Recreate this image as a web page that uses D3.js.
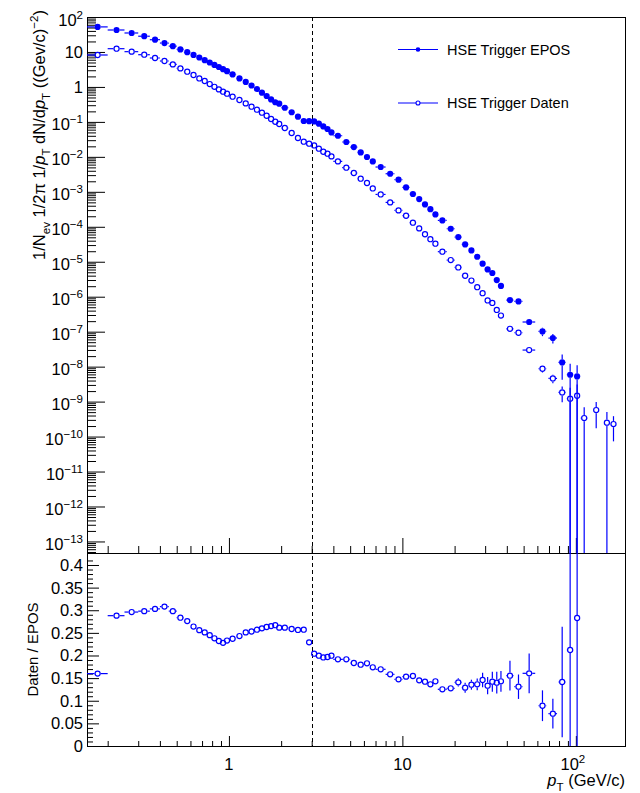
<!DOCTYPE html>
<html>
<head>
<meta charset="utf-8">
<script src="https://cdn.jsdelivr.net/npm/d3@7"></script>
<style>
  body { margin: 0; background: #fff; }
  text { font-family: "Liberation Sans", Arial, sans-serif; fill: #000; }
</style>
</head>
<body>
<div id="chart"></div>
<script>
// ---- data ----
// bin centres (GeV/c) and half widths
const pt = [0.175, 0.225, 0.275, 0.325, 0.375, 0.425, 0.475, 0.525, 0.575, 0.625, 0.675, 0.725, 0.775, 0.825, 0.875, 0.925, 0.975,
  1.05, 1.15, 1.25, 1.35, 1.45, 1.55, 1.65, 1.75, 1.85, 1.95,
  2.1, 2.3, 2.5, 2.7, 2.9, 3.1, 3.3, 3.5, 3.7, 3.9,
  4.25, 4.75, 5.25, 5.75, 6.25, 6.75,
  7.5, 8.5, 9.5, 10.5, 11.5, 12.5, 13.5, 14.5, 15.5,
  17, 19, 21, 23, 25, 27, 29, 31, 33, 35, 37,
  41.7, 46.7, 53.8, 64.2, 73.7, 83.4, 92.7, 101.7,
  111.7, 131, 151, 164.8];
const ptErr = [0.025, 0.025, 0.025, 0.025, 0.025, 0.025, 0.025, 0.025, 0.025, 0.025, 0.025, 0.025, 0.025, 0.025, 0.025, 0.025, 0.025,
  0.05, 0.05, 0.05, 0.05, 0.05, 0.05, 0.05, 0.05, 0.05, 0.05,
  0.1, 0.1, 0.1, 0.1, 0.1, 0.1, 0.1, 0.1, 0.1, 0.1,
  0.25, 0.25, 0.25, 0.25, 0.25, 0.25,
  0.5, 0.5, 0.5, 0.5, 0.5, 0.5, 0.5, 0.5, 0.5,
  1, 1, 1, 1, 1, 1, 1, 1, 1, 1, 1,
  2, 2.5, 4.5, 3.3, 4.2, 4, 4, 4,
  5, 5, 5, 5];

// HSE Trigger EPOS
const epos = [52.1, 42.5, 34.9, 28.2, 22.4, 18.0, 14.6, 11.8, 9.84, 8.24, 6.94, 5.81, 4.99, 4.26, 3.71, 3.21, 2.82,
  2.28, 1.75, 1.39, 1.10, 0.872, 0.683, 0.550, 0.440, 0.365, 0.331,
  0.254, 0.189, 0.141, 0.106, 0.105, 0.103, 0.0887, 0.0743, 0.0626, 0.0500,
  0.0402, 0.0266, 0.0191, 0.0134, 0.00989, 0.00741,
  0.00512, 0.00329, 0.00222, 0.00134, 8.65e-4, 6.22e-4, 4.36e-4, 3.18e-4, 2.26e-4,
  1.52e-4, 8.80e-5, 5.09e-5, 3.13e-5, 2.11e-5, 1.39e-5, 8.78e-6, 6.03e-6, 4.76e-6, 3.00e-6, 2.03e-6,
  8.04e-7, 7.33e-7, 1.89e-7, 1.02e-7, 6.58e-8, 1.32e-8, 5.87e-9, 5.24e-9];
// relative errors (error / value)
const eposRelErr = [0.01, 0.01, 0.01, 0.01, 0.01, 0.01, 0.01, 0.01, 0.01, 0.01, 0.01, 0.01, 0.01, 0.01, 0.01, 0.01, 0.01,
  0.01, 0.01, 0.01, 0.01, 0.01, 0.01, 0.01, 0.01, 0.01, 0.01,
  0.01, 0.01, 0.01, 0.01, 0.01, 0.01, 0.01, 0.01, 0.01, 0.01,
  0.01, 0.01, 0.01, 0.01, 0.01, 0.01,
  0.01, 0.01, 0.01, 0.01, 0.01, 0.01, 0.01, 0.01, 0.01,
  0.01, 0.01, 0.01, 0.01, 0.02, 0.02, 0.02, 0.02, 0.02, 0.03, 0.03,
  0.05, 0.05, 0.08, 0.27, 0.3, 0.68, 1.05, 1.1];

// HSE Trigger Daten
const daten = [8.19, 12.4, 10.2, 8.35, 6.72, 5.51, 4.41, 3.39, 2.73, 2.19, 1.75, 1.48, 1.21, 1.01, 0.849, 0.730, 0.640,
  0.525, 0.423, 0.338, 0.272, 0.223, 0.183, 0.150, 0.121, 0.101, 0.0870,
  0.0668, 0.0481, 0.0346, 0.0271, 0.0238, 0.0212, 0.0171, 0.0140, 0.0123, 0.0103,
  0.00741, 0.00489, 0.00345, 0.00237, 0.00179, 0.00125,
  8.42e-4, 4.98e-4, 2.94e-4, 2.07e-4, 1.31e-4, 8.98e-5, 6.12e-5, 4.41e-5, 3.28e-5,
  1.94e-5, 1.12e-5, 6.88e-6, 3.98e-6, 2.90e-6, 1.87e-6, 1.26e-6, 7.83e-7, 6.64e-7, 4.18e-7, 2.89e-7,
  1.21e-7, 9.33e-8, 2.98e-8, 8.71e-9, 4.60e-9, 1.83e-9, 1.21e-9, 1.47e-9,
  3.39e-10, 5.74e-10, 2.49e-10, 2.28e-10];
const datenRelErr = [0.01, 0.01, 0.01, 0.01, 0.01, 0.01, 0.01, 0.01, 0.01, 0.01, 0.01, 0.01, 0.01, 0.01, 0.01, 0.01, 0.01,
  0.01, 0.01, 0.01, 0.01, 0.01, 0.01, 0.01, 0.01, 0.01, 0.01,
  0.01, 0.01, 0.01, 0.01, 0.01, 0.01, 0.01, 0.01, 0.01, 0.01,
  0.01, 0.01, 0.01, 0.01, 0.01, 0.01,
  0.01, 0.01, 0.01, 0.01, 0.01, 0.01, 0.01, 0.01, 0.01,
  0.01, 0.01, 0.01, 0.02, 0.02, 0.02, 0.03, 0.03, 0.03, 0.03, 0.03,
  0.04, 0.05, 0.1, 0.22, 0.27, 0.48, 1.05, 1.1,
  1.02, 0.7, 1.02, 0.68];

// Daten / EPOS
const ratio = [0.160, 0.288, 0.296, 0.298, 0.303, 0.308, 0.298, 0.2835, 0.276, 0.264, 0.256, 0.251, 0.245, 0.238, 0.232, 0.228, 0.233,
  0.237, 0.243, 0.251, 0.253, 0.257, 0.260, 0.263, 0.265, 0.267, 0.2615,
  0.2615, 0.2586, 0.2564, 0.257, 0.229, 0.204, 0.1996, 0.1957, 0.1967, 0.1996,
  0.1916, 0.1916, 0.1834, 0.1797, 0.1827, 0.1739,
  0.1695, 0.1584, 0.1473, 0.1532, 0.1547, 0.1451, 0.1421, 0.1363, 0.143,
  0.1253, 0.1275, 0.1407, 0.1289, 0.1355, 0.1363, 0.1459, 0.1333, 0.1421, 0.1399, 0.143,
  0.1554, 0.131, 0.1606, 0.089, 0.0714, 0.1414, 0.2122, 0.2829];
const ratioErr = [0.002, 0.002, 0.002, 0.002, 0.002, 0.002, 0.002, 0.002, 0.002, 0.002, 0.002, 0.002, 0.002, 0.002, 0.002, 0.002, 0.002,
  0.002, 0.002, 0.002, 0.002, 0.002, 0.002, 0.002, 0.002, 0.002, 0.002,
  0.002, 0.002, 0.002, 0.003, 0.003, 0.003, 0.003, 0.003, 0.003, 0.003,
  0.003, 0.003, 0.003, 0.003, 0.003, 0.003,
  0.005, 0.005, 0.005, 0.005, 0.005, 0.005, 0.005, 0.005, 0.005,
  0.007, 0.007, 0.009, 0.011, 0.011, 0.013, 0.016, 0.019, 0.022, 0.024, 0.023,
  0.033, 0.027, 0.044, 0.034, 0.033, 0.122, 0.25, 0.32];

const yExponents = d3.range(-13, 3);            // 10^-13 ... 10^2
const ratioTicks = d3.range(0, 0.41, 0.05);     // 0 ... 0.4
const xLabelTicks = [1, 10, 100];
const cutPt = 3;                                 // dashed line
const legendLabels = ['HSE Trigger EPOS', 'HSE Trigger Daten'];

// ---- layout ----
const width = 640;
const height = 793;
const frame = { left: 87, right: 625, top: 17, mid: 553, bottom: 746 };
const blue = '#0000ff';
const markerR = 3.1;

const svg = d3.select('#chart')
  .append('svg')
  .attr('width', width)
  .attr('height', height);

svg.append('rect').attr('width', width).attr('height', height).attr('fill', '#fff');

// scales
const xScale = d3.scaleLog().domain([0.152, 192]).range([frame.left, frame.right]);
const yTop = d3.scaleLog().domain([Math.pow(10, -13.33), 100]).range([frame.mid, frame.top]);
const yRatio = d3.scaleLinear().domain([0, 0.4265]).range([frame.bottom, frame.mid]);

// clip paths for the two pads
const defs = svg.append('defs');
defs.append('clipPath').attr('id', 'clipTop').append('rect')
  .attr('x', frame.left).attr('y', frame.top)
  .attr('width', frame.right - frame.left).attr('height', frame.mid - frame.top);
defs.append('clipPath').attr('id', 'clipRatio').append('rect')
  .attr('x', frame.left).attr('y', frame.mid)
  .attr('width', frame.right - frame.left).attr('height', frame.bottom - frame.mid);

// minor tick values for the log axes
function logMinors(lo, hi) {
  const out = [];
  for (let e = Math.floor(Math.log10(lo)) - 1; e <= Math.ceil(Math.log10(hi)); e++) {
    for (let k = 2; k <= 9; k++) {
      const v = k * Math.pow(10, e);
      if (v > lo && v < hi) out.push(v);
    }
  }
  return out;
}

function ticks(g, axis) {
  g.call(axis).call(s => s.select('.domain').remove());
  g.selectAll('line').attr('stroke', '#000').attr('stroke-width', 1);
}

// ---- axes / ticks ----
const gAxes = svg.append('g');
// top pad y
ticks(gAxes.append('g').attr('transform', `translate(${frame.left},0)`),
  d3.axisLeft(yTop).tickValues(yExponents.map(n => Math.pow(10, n))).tickSize(-18).tickFormat(''));
ticks(gAxes.append('g').attr('transform', `translate(${frame.left},0)`),
  d3.axisLeft(yTop).tickValues(logMinors(yTop.domain()[0], 100)).tickSize(-9).tickFormat(''));
// top pad x
ticks(gAxes.append('g').attr('transform', `translate(0,${frame.mid})`),
  d3.axisBottom(xScale).tickValues(xLabelTicks).tickSize(-15).tickFormat(''));
ticks(gAxes.append('g').attr('transform', `translate(0,${frame.mid})`),
  d3.axisBottom(xScale).tickValues(logMinors(0.152, 192)).tickSize(-7).tickFormat(''));
// ratio pad y
ticks(gAxes.append('g').attr('transform', `translate(${frame.left},0)`),
  d3.axisLeft(yRatio).tickValues(ratioTicks).tickSize(-12).tickFormat(''));
ticks(gAxes.append('g').attr('transform', `translate(${frame.left},0)`),
  d3.axisLeft(yRatio).tickValues(d3.range(0.01, 0.42, 0.01).filter(v => Math.round(v * 100) % 5 !== 0)).tickSize(-6).tickFormat(''));
// ratio pad x
ticks(gAxes.append('g').attr('transform', `translate(0,${frame.bottom})`),
  d3.axisBottom(xScale).tickValues(xLabelTicks).tickSize(-10).tickFormat(''));
ticks(gAxes.append('g').attr('transform', `translate(0,${frame.bottom})`),
  d3.axisBottom(xScale).tickValues(logMinors(0.152, 192)).tickSize(-5).tickFormat(''));

// frames
svg.append('rect')
  .attr('x', frame.left + 0.5).attr('y', frame.top + 0.5)
  .attr('width', frame.right - frame.left).attr('height', frame.mid - frame.top)
  .attr('fill', 'none').attr('stroke', '#000');
svg.append('rect')
  .attr('x', frame.left + 0.5).attr('y', frame.mid + 0.5)
  .attr('width', frame.right - frame.left).attr('height', frame.bottom - frame.mid)
  .attr('fill', 'none').attr('stroke', '#000');

// ---- labels ----
const labelSize = 16.5;
function richText(t, parts, size) {
  let shift = 0;
  parts.forEach(([s, kind]) => {
    const target = kind === 'sub' ? size * 0.3 : kind === 'sup' ? -size * 0.42 : 0;
    const ts = t.append('tspan').attr('dy', target - shift).text(s);
    shift = target;
    if (kind === 'sub' || kind === 'sup') ts.attr('font-size', size * 0.7);
    if (kind === 'i') ts.attr('font-style', 'italic');
  });
}

yExponents.forEach(n => {
  const t = svg.append('text')
    .attr('x', 83)
    .attr('text-anchor', 'end')
    .attr('font-size', labelSize);
  if (n === 0 || n === 1) {
    t.attr('y', yTop(Math.pow(10, n)) + 6.5).text(n === 0 ? '1' : '10');
  } else {
    t.attr('y', yTop(Math.pow(10, n)) + 8.5);
    richText(t, [['10', 'n'], [String(n).replace('-', '\u2212'), 'sup']], labelSize);
  }
});

ratioTicks.forEach(v => {
  svg.append('text')
    .attr('x', 83)
    .attr('y', yRatio(v) + 6)
    .attr('text-anchor', 'end')
    .attr('font-size', labelSize)
    .text(d3.format('.3~f')(v));
});

xLabelTicks.forEach(v => {
  const t = svg.append('text')
    .attr('y', 770)
    .attr('text-anchor', 'middle')
    .attr('font-size', labelSize);
  if (v < 100) t.attr('x', xScale(v)).text(String(v));
  else {
    t.attr('x', xScale(v) - 3);
    richText(t, [['10', 'n'], ['2', 'sup']], labelSize);
  }
});

// axis titles
const xTitle = svg.append('text')
  .attr('x', frame.right)
  .attr('y', 786)
  .attr('text-anchor', 'end')
  .attr('font-size', labelSize);
richText(xTitle, [['p', 'i'], ['T', 'sub'], [' (GeV/c)', 'n']], labelSize);

const yTitle = svg.append('text')
  .attr('transform', 'translate(45,10) rotate(-90)')
  .attr('text-anchor', 'end')
  .attr('font-size', labelSize);
richText(yTitle, [['1/N', 'n'], ['ev', 'sub'], [' 1/2\u03c0 1/', 'n'], ['p', 'i'], ['T', 'sub'],
  [' dN/d', 'n'], ['p', 'i'], ['T', 'sub'], ['  ((Gev/c)', 'n'], ['\u22122', 'sup'], [')', 'n']], labelSize);

svg.append('text')
  .attr('transform', `translate(38,${(frame.mid + frame.bottom) / 2}) rotate(-90)`)
  .attr('text-anchor', 'middle')
  .attr('font-size', 15)
  .text('Daten / EPOS');

// ---- dashed line at pT = 3 ----
svg.append('line')
  .attr('x1', Math.round(xScale(cutPt)) + 0.5).attr('x2', Math.round(xScale(cutPt)) + 0.5)
  .attr('y1', frame.top).attr('y2', frame.bottom)
  .attr('stroke', '#000').attr('stroke-dasharray', '4,3');

// ---- points with error bars ----
function drawSeries(clip, yScale, xs, xe, ys, ye, filled) {
  const g = svg.append('g').attr('clip-path', `url(#${clip})`);
  const [yMin, yMax] = yScale.domain();
  const segs = [];
  ys.forEach((v, i) => {
    const px = xScale(xs[i]);
    const py = yScale(v);
    const xl = xScale(Math.max(xs[i] - xe[i], 0.1));
    const xr = xScale(xs[i] + xe[i]);
    const yHi = yScale(Math.min(v + ye[i], yMax * 10));
    const yLo = v - ye[i] > yMin ? yScale(v - ye[i]) : yScale(yMin) + 5;
    const r = markerR;
    if (px - r > xl) segs.push([xl, py, px - r, py]);
    if (xr > px + r) segs.push([px + r, py, xr, py]);
    if (py - r > yHi) segs.push([px, yHi, px, py - r]);
    if (yLo > py + r) segs.push([px, py + r, px, yLo]);
  });
  g.selectAll('line.err')
    .data(segs)
    .enter()
    .append('line')
    .attr('class', 'err')
    .attr('x1', d => d[0]).attr('y1', d => d[1])
    .attr('x2', d => d[2]).attr('y2', d => d[3])
    .attr('stroke', blue).attr('stroke-width', 1.2);

  g.selectAll('circle')
    .data(ys)
    .enter()
    .append('circle')
    .attr('cx', (d, i) => xScale(xs[i]))
    .attr('cy', d => yScale(d))
    .attr('r', filled ? markerR : markerR - 0.55)
    .attr('fill', filled ? blue : 'none')
    .attr('stroke', blue)
    .attr('stroke-width', filled ? 0 : 1.2);
}

drawSeries('clipTop', yTop, pt, ptErr, epos, epos.map((v, i) => v * eposRelErr[i]), true);
drawSeries('clipTop', yTop, pt, ptErr, daten, daten.map((v, i) => v * datenRelErr[i]), false);
drawSeries('clipRatio', yRatio, pt, ptErr, ratio, ratioErr, false);

// ---- legend ----
const legendY = [49.5, 103];
legendLabels.forEach((label, i) => {
  const g = svg.append('g').attr('transform', `translate(0,${legendY[i]})`);
  g.append('line').attr('x1', 398).attr('x2', 438).attr('y1', 0).attr('y2', 0)
    .attr('stroke', blue).attr('stroke-width', 1.2);
  g.append('circle').attr('cx', 418).attr('cy', 0).attr('r', i === 0 ? 2.3 : 2)
    .attr('fill', i === 0 ? blue : '#fff').attr('stroke', blue).attr('stroke-width', i === 0 ? 0 : 1.1);
  g.append('text').attr('x', 447).attr('y', 5.2).attr('font-size', 14.5).text(label);
});
</script>
</body>
</html>
